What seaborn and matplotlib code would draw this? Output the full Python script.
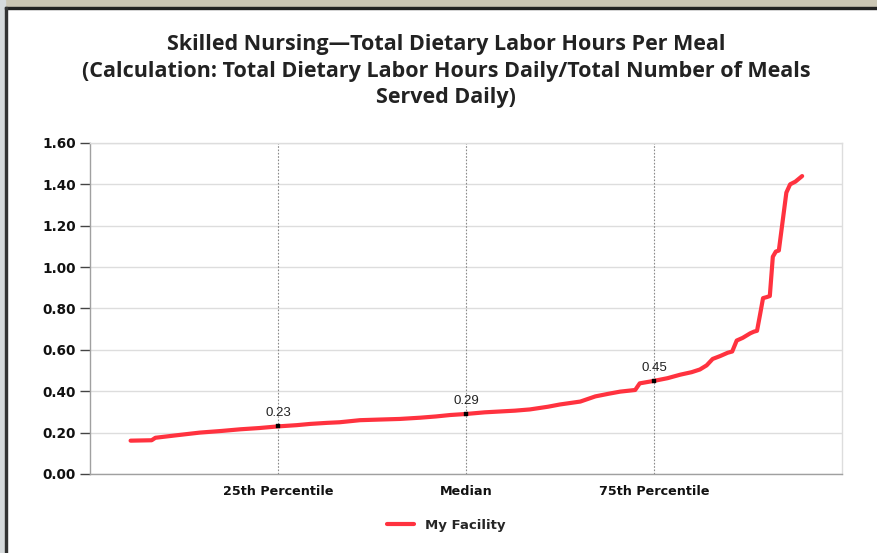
import seaborn as sns
import matplotlib.pyplot as plt
import matplotlib.patches as mpatches
import pandas as pd

# style
sns.set_style("white")
plt.rcParams["font.family"] = ["DejaVu Sans"]

# data (percentile rank vs. labor hours per meal)
percentile = [5.4, 8.2, 8.7, 11.5, 14.6, 17.5, 20.0, 22.5, 25.0, 27.5,
              29.3, 31.5, 33.2, 35.9, 38.5, 41.2, 43.9, 46.0, 47.9, 50.0,
              52.5, 54.5, 56.5, 58.5, 60.9, 62.5, 65.2, 67.2, 69.0, 70.5,
              72.5, 73.1, 75.0, 76.8, 78.5, 80.0, 81.1, 82.0, 82.8, 83.8,
              84.8, 85.4, 86.0, 86.8, 87.8, 88.3, 88.7, 89.1, 89.5, 90.0,
              90.4, 90.8, 91.2, 91.6, 92.1, 92.6, 93.1, 93.8, 94.7]
hours_per_meal = [0.161, 0.163, 0.175, 0.187, 0.200, 0.208, 0.216, 0.222, 0.230, 0.236,
                  0.242, 0.247, 0.250, 0.260, 0.263, 0.266, 0.272, 0.278, 0.285, 0.290,
                  0.298, 0.302, 0.306, 0.312, 0.325, 0.336, 0.350, 0.375, 0.388, 0.398,
                  0.406, 0.438, 0.450, 0.463, 0.480, 0.492, 0.505, 0.525, 0.556, 0.570,
                  0.586, 0.592, 0.645, 0.658, 0.680, 0.688, 0.692, 0.770, 0.850, 0.855,
                  0.860, 1.050, 1.075, 1.080, 1.220, 1.360, 1.400, 1.413, 1.440]

marker_pct = [25, 50, 75]
marker_vals = [0.23, 0.29, 0.45]
x_tick_labels = ["25th Percentile", "Median", "75th Percentile"]
y_ticks = [0.0, 0.2, 0.4, 0.6, 0.8, 1.0, 1.2, 1.4, 1.6]
y_tick_labels = ["0.00", "0.20", "0.40", "0.60", "0.80", "1.00", "1.20", "1.40", "1.60"]

title = ("Skilled Nursing\u2014Total Dietary Labor Hours Per Meal\n"
         "(Calculation: Total Dietary Labor Hours Daily/Total Number of Meals\n"
         "Served Daily)")

df = pd.DataFrame({"pct": percentile, "value": hours_per_meal})
marks = pd.DataFrame({"pct": marker_pct, "value": marker_vals})

fig = plt.figure(figsize=(8.77, 5.53), dpi=100)
ax = fig.add_axes([0.1026, 0.1429, 0.8575, 0.5986])

# screenshot frame around the chart
fig.patches.append(mpatches.Rectangle((0, 0.986), 1, 0.014, transform=fig.transFigure,
                                      color="#cbc6b4", zorder=0))
fig.patches.append(mpatches.Rectangle((0, 0), 0.006, 1, transform=fig.transFigure,
                                      color="#d6dadc", zorder=0))
fig.patches.append(mpatches.Rectangle((0.006, 0.983), 0.994, 0.004, transform=fig.transFigure,
                                      color="#222222", zorder=1))
fig.patches.append(mpatches.Rectangle((0.0057, 0), 0.0028, 0.987, transform=fig.transFigure,
                                      color="#333333", zorder=1))

# gridlines and percentile guides
ax.yaxis.grid(True, color="#dddddd", lw=1)
for p in marker_pct:
    ax.axvline(p, color="#8a8a8a", lw=0.8, ls=(0, (1.5, 1.5)), zorder=1)

sns.lineplot(data=df, x="pct", y="value", ax=ax, color="#ff323f", lw=3,
             legend=False, zorder=3)
sns.scatterplot(data=marks, x="pct", y="value", ax=ax, marker="s", s=10,
                color="black", edgecolor="black", zorder=4, legend=False)
for p, v in zip(marker_pct, marker_vals):
    ax.annotate(f"{v:.2f}", (p, v), xytext=(0, 5), textcoords="offset points",
                ha="center", va="bottom", fontsize=9.5, color="#222222",
                family="Liberation Sans")

ax.set_xlim(0, 100)
ax.set_ylim(0, 1.6)
ax.set_yticks(y_ticks, y_tick_labels, fontsize=9.8, fontweight="bold", color="#111111")
ax.set_xticks(marker_pct, x_tick_labels, fontsize=9.2, fontweight="bold", color="#111111")
ax.set_xticks([0, 100], minor=True)
ax.tick_params(axis="x", which="major", length=0, pad=8)
ax.tick_params(axis="x", which="minor", length=6, width=1, color="#888888", direction="out")
ax.tick_params(axis="y", length=7, width=1, color="#444444", pad=3, left=True)
ax.set_xlabel("")
ax.set_ylabel("")

for side in ["left", "bottom"]:
    ax.spines[side].set_color("#a0a0a0")
    ax.spines[side].set_linewidth(1)
for side in ["top", "right"]:
    ax.spines[side].set_color("#dddddd")
    ax.spines[side].set_linewidth(1)

fig.text(446 / 877, 1 - 71 / 553, title, ha="center", va="center", fontsize=15.5,
         fontweight="bold", family="Open Sans", color="#222222", linespacing=1.32)

legend_line = plt.Line2D([], [], color="#ff323f", lw=3)
fig.legend([legend_line], ["My Facility"], loc="center", bbox_to_anchor=(446 / 877, 1 - 525 / 553),
           frameon=False, handlelength=2.1, prop={"weight": "bold", "size": 9.5})

fig.savefig("out.png", dpi=100)
plt.close(fig)
